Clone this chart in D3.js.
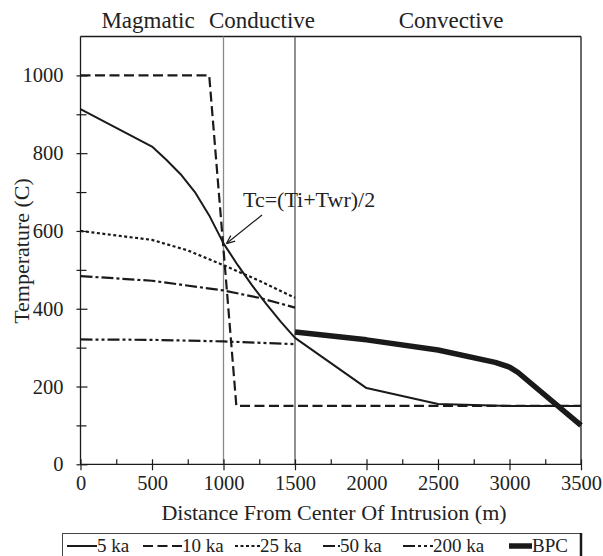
<!DOCTYPE html>
<html><head><meta charset="utf-8">
<script src="https://cdn.jsdelivr.net/npm/d3@7"></script>
<style>body{margin:0;background:#fff}svg{display:block}</style>
</head><body>
<svg id="c" width="603" height="556"></svg>
<script>
// ---- data ----
const xTicks = [0,500,1000,1500,2000,2500,3000,3500];
const yTicks = [0,200,400,600,800,1000];
const zoneLabels = ["Magmatic","Conductive","Convective"];
const s5ka   = [[0,913],[500,817],[600,783],[700,746],[800,700],[900,640],[1000,568],[1100,512],[1200,460],[1300,412],[1400,367],[1500,325],[2000,196],[2500,155],[3000,150],[3500,150]];
const s10ka  = [[0,1000],[900,1000],[1090,150],[3500,150]];
const s25ka  = [[0,600],[500,577],[750,550],[1000,512],[1250,472],[1500,428]];
const s50ka  = [[0,484],[500,472],[1000,447],[1250,428],[1500,403]];
const s200ka = [[0,321],[500,320],[1000,316],[1500,309]];
const sBPC   = [[1500,340],[2000,320],[2500,294],[2900,262],[3000,250],[3060,236],[3500,100]];
const boundaries = [1000,1500];
const annotation = "Tc=(Ti+Twr)/2";
const legendLabels = ["5 ka","10 ka","25 ka","50 ka","200 ka","BPC"];

const FONT = "'Liberation Serif','Times New Roman',Times,'DejaVu Serif',serif";
const svg = d3.select("#c");
const x = d3.scaleLinear().domain([0,3500]).range([80.5,581]);
const y = d3.scaleLinear().domain([0,1100]).range([464.3,36.5]);
const ink = "#1a1a1a";
const txt = (sel,size)=>sel.attr("font-family",FONT).attr("font-size",size).attr("fill","#222");

// frame top/right
svg.append("line").attr("x1",x(0)).attr("x2",x(3500)).attr("y1",y(1100)).attr("y2",y(1100)).attr("stroke",ink).attr("stroke-width",1.3);
svg.append("line").attr("x1",x(3500)).attr("x2",x(3500)).attr("y1",y(1100)).attr("y2",y(0)).attr("stroke",ink).attr("stroke-width",1.3);
// zone boundaries
svg.append("line").attr("x1",x(boundaries[0])).attr("x2",x(boundaries[0])).attr("y1",y(1100)).attr("y2",y(0)).attr("stroke","#8a8a8a").attr("stroke-width",1.3);
svg.append("line").attr("x1",x(boundaries[1])).attr("x2",x(boundaries[1])).attr("y1",y(1100)).attr("y2",y(0)).attr("stroke","#555").attr("stroke-width",1.3);

// axes
const gx = svg.append("g").attr("transform",`translate(0,${y(0)})`)
  .call(d3.axisBottom(x).tickValues(xTicks).tickSize(6).tickPadding(5).tickFormat(d3.format("d")));
gx.selectAll(".tick line").attr("y1",-5).attr("y2",6);
const gxm = svg.append("g").attr("transform",`translate(0,${y(0)})`)
  .call(d3.axisBottom(x).tickValues(d3.range(250,3500,500)).tickSize(-5).tickFormat(""));
const gy = svg.append("g").attr("transform",`translate(${x(0)},0)`)
  .call(d3.axisLeft(y).tickValues(yTicks).tickSize(4).tickPadding(13).tickFormat(d3.format("d")));
gy.selectAll(".tick line").attr("x1",-4).attr("x2",7);
const gym = svg.append("g").attr("transform",`translate(${x(0)},0)`)
  .call(d3.axisLeft(y).tickValues(d3.range(100,1100,200)).tickSize(4).tickFormat(""));
gym.selectAll(".tick line").attr("x1",-4).attr("x2",6);
[gx,gy,gxm,gym].forEach(g=>{
  g.attr("font-family",FONT);
  g.selectAll("path.domain").remove();
  g.selectAll(".tick line").attr("stroke",ink).attr("stroke-width",1.2);
  txt(g.selectAll("text"),"20.5px");
});
// axis lines
svg.append("line").attr("x1",x(0)).attr("x2",x(3500)).attr("y1",y(0)).attr("y2",y(0)).attr("stroke",ink).attr("stroke-width",1.3);
svg.append("line").attr("x1",x(0)).attr("x2",x(0)).attr("y1",y(0)).attr("y2",y(1100)).attr("stroke",ink).attr("stroke-width",1.3);

// axis titles
txt(svg.append("text").attr("x",334).attr("y",520).attr("text-anchor","middle"),"22px").text("Distance From Center Of Intrusion (m)");
txt(svg.append("text").attr("transform","translate(29,251) rotate(-90)").attr("text-anchor","middle"),"22px").text("Temperature (C)");

// zone labels
const zx = [148,262,451];
zoneLabels.forEach((t,i)=>txt(svg.append("text").attr("x",zx[i]).attr("y",28).attr("text-anchor","middle"),"23px").text(t));

// series
const line = d3.line().x(d=>x(d[0])).y(d=>y(d[1]));
const series = [
  {d:s5ka,  w:2, dash:null},
  {d:s10ka, w:2.2, dash:"10,4.5"},
  {d:s25ka, w:2.2, dash:"3,2.5"},
  {d:s50ka, w:2.2, dash:"12,3,3,3"},
  {d:s200ka,w:2.2, dash:"12,3,3,3,3,3"},
  {d:sBPC,  w:5.5, dash:null}
];
series.forEach(s=>{
  svg.append("path").attr("d",line(s.d)).attr("fill","none").attr("stroke",ink)
    .attr("stroke-width",s.w).attr("stroke-dasharray",s.dash).attr("stroke-linejoin","round");
});

// annotation
txt(svg.append("text").attr("x",243).attr("y",207),"22px").text(annotation);
const ax0=262, ay0=215, ax1=x(1000)+3, ay1=y(565)-1;
svg.append("line").attr("x1",ax0).attr("y1",ay0).attr("x2",ax1).attr("y2",ay1).attr("stroke",ink).attr("stroke-width",1.2);
const ang=Math.atan2(ay1-ay0,ax1-ax0), L=9;
[0.4,-0.4].forEach(da=>{
  svg.append("line").attr("x1",ax1).attr("y1",ay1)
    .attr("x2",ax1-L*Math.cos(ang+da)).attr("y2",ay1-L*Math.sin(ang+da)).attr("stroke",ink).attr("stroke-width",1.2);
});

// legend
svg.append("rect").attr("x",62.5).attr("y",533.5).attr("width",519).attr("height",30).attr("fill","none").attr("stroke","#444").attr("stroke-width",1);
svg.append("line").attr("x1",581).attr("x2",581).attr("y1",533).attr("y2",556).attr("stroke",ink).attr("stroke-width",2.5);
const legX = [[67,97],[143,182],[235,260],[323,340],[403,433],[509,532]];
legendLabels.forEach((t,i)=>{
  const s=series[i];
  svg.append("line").attr("x1",legX[i][0]).attr("x2",legX[i][1]).attr("y1",546).attr("y2",546)
    .attr("stroke",ink).attr("stroke-width",s.w).attr("stroke-dasharray",s.dash);
  txt(svg.append("text").attr("x",legX[i][1]).attr("y",552),"19px").text(t);
});
</script>
</body></html>
